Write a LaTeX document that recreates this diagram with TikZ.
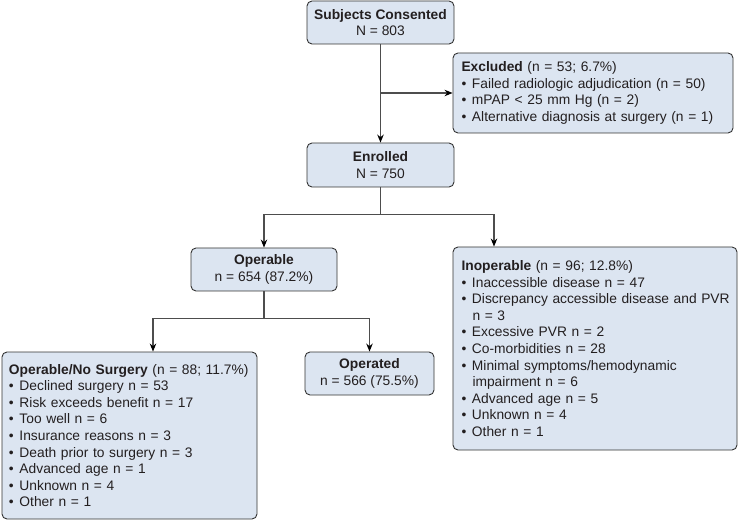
\documentclass[tikz,border=0pt]{standalone}
\usepackage{fontspec}
\setmainfont{Liberation Sans}
\usetikzlibrary{arrows.meta,calc}
\definecolor{boxfill}{HTML}{DCE5F1}
\definecolor{boxline}{HTML}{333333}
\definecolor{connc}{HTML}{4D4D4D}
\definecolor{txt}{HTML}{231F20}
\newcommand{\bul}[1]{\mbox{\makebox[10.5pt][l]{•}#1}}
\newcommand{\contline}[1]{\mbox{\rule{11pt}{0pt}#1}}
\begin{document}
\begin{tikzpicture}[x=1pt,y=-1pt,
  box/.style={draw=boxline, fill=boxfill, line width=0.9pt, rounded corners=5pt, text=txt,
    font=\fontsize{13.8}{16.6}\selectfont, inner sep=0pt},
  cbox/.style={box, align=center},
  lbox/.style={box, align=left, inner xsep=8.5pt},
  conn/.style={draw=connc, line width=1.1pt},
  arr/.style={conn, -{Stealth[length=8pt,width=6.5pt,color=black]}}]
\useasboundingbox (0,0) rectangle (739,521);

\node[cbox, minimum width=147pt, minimum height=43pt] (cons) at (380.5,22.5)
  {\textbf{Subjects Consented}\\N = 803};
\node[lbox, text width=263pt, minimum height=80pt] (excl) at (593,93)
  {\textbf{Excluded} (n = 53; 6.7\%)\\
   \bul{Failed radiologic adjudication (n = 50)}\\
   \bul{mPAP < 25 mm Hg (n = 2)}\\
   \bul{Alternative diagnosis at surgery (n = 1)}};
\node[cbox, minimum width=147pt, minimum height=44pt] (enr) at (380.5,165)
  {\textbf{Enrolled}\\N = 750};
\node[cbox, minimum width=146pt, minimum height=43pt] (oper) at (264,269.5)
  {\textbf{Operable}\\n = 654 (87.2\%)};
\node[lbox, text width=267pt, minimum height=203pt] (inop) at (595,348.5)
  {\textbf{Inoperable} (n = 96; 12.8\%)\\
   \bul{Inaccessible disease n = 47}\\
   \bul{Discrepancy accessible disease and PVR}\\
   \contline{n = 3}\\
   \bul{Excessive PVR n = 2}\\
   \bul{Co-morbidities n = 28}\\
   \bul{Minimal symptoms/hemodynamic}\\
   \contline{impairment n = 6}\\
   \bul{Advanced age n = 5}\\
   \bul{Unknown n = 4}\\
   \bul{Other n = 1}};
\node[lbox, inner xsep=7pt, text width=241pt, minimum height=167pt] (ons) at (129.5,435.5)
  {\textbf{Operable/No Surgery} (n = 88; 11.7\%)\\
   \bul{Declined surgery n = 53}\\
   \bul{Risk exceeds benefit n = 17}\\
   \bul{Too well n = 6}\\
   \bul{Insurance reasons n = 3}\\
   \bul{Death prior to surgery n = 3}\\
   \bul{Advanced age n = 1}\\
   \bul{Unknown n = 4}\\
   \bul{Other n = 1}};
\node[cbox, minimum width=129pt, minimum height=43pt] (opd) at (369.5,373.5)
  {\textbf{Operated}\\n = 566 (75.5\%)};

\draw[arr] (cons.south) -- (enr.north);
\draw[arr] (cons.south |- excl.west) -- (excl.west);
\coordinate (j1) at ($(enr.south)+(0,27)$);
\draw[conn] (enr.south) -- (j1);
\draw[arr] (j1) -| (oper.north);
\draw[arr] (j1) -| ([xshift=-101pt]inop.north);
\coordinate (j2) at ($(oper.south)+(0,27)$);
\draw[conn] (oper.south) -- (j2);
\draw[arr] (j2) -| ([xshift=23.5pt]ons.north);
\draw[arr] (j2) -| (opd.north);
\end{tikzpicture}
\end{document}
